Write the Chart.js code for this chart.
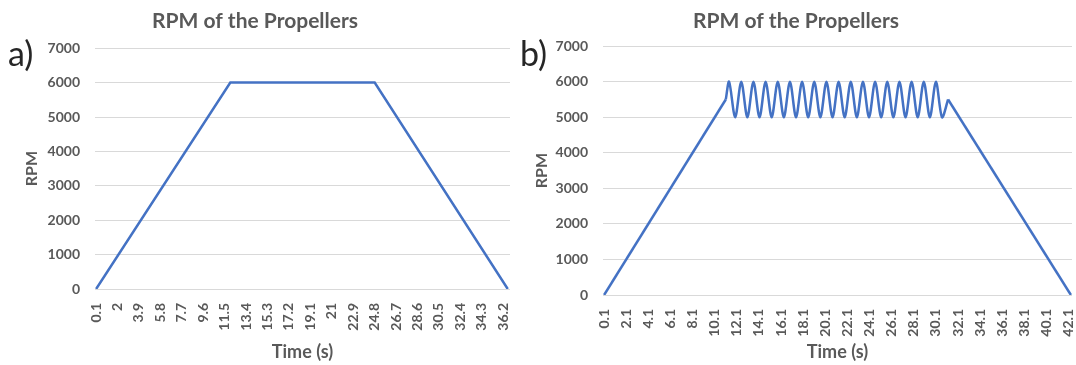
<!DOCTYPE html>
<html>
<head>
<meta charset="utf-8">
<title>RPM of the Propellers</title>
<script src="https://cdn.jsdelivr.net/npm/chart.js@4.4.1/dist/chart.umd.min.js"></script>
<style>
  body { margin: 0; background: #fff; }
  #wrap { position: relative; width: 1076px; height: 365px; overflow: hidden; }
  canvas { position: absolute; top: 0; }
  #chartA { left: 0; }
  #chartB { left: 520px; }
  .tag { position: absolute; font-family: Lato, sans-serif; font-size: 34px; color: #262626; line-height: 1; }
</style>
</head>
<body>
<div id="wrap">
  <canvas id="chartA" width="535" height="365"></canvas>
  <canvas id="chartB" width="556" height="365"></canvas>
  <div class="tag" style="left:8px; top:36px;">a)</div>
  <div class="tag" style="left:520px; top:36px;">b)</div>
</div>
<script>
// a) steady run: ramp up, hold at 6000, ramp down
const timeA = [0.1, 12.0, 24.8, 36.6];
const rpmA = [0, 6000, 6000, 0];
const ticksA = ['0.1', '2', '3.9', '5.8', '7.7', '9.6', '11.5', '13.4', '15.3', '17.2',
  '19.1', '21', '22.9', '24.8', '26.7', '28.6', '30.5', '32.4', '34.3', '36.2'];

// b) oscillating between 5000 and 6000 during the hold
const timeB = [0.1, 11.1,
  11.4, 11.95, 12.5, 13.05, 13.6, 14.15, 14.7, 15.25, 15.8, 16.35,
  16.9, 17.45, 18.0, 18.55, 19.1, 19.65, 20.2, 20.75, 21.3, 21.85,
  22.4, 22.95, 23.5, 24.05, 24.6, 25.15, 25.7, 26.25, 26.8, 27.35,
  27.9, 28.45, 29.0, 29.55, 30.1, 30.65,
  31.2, 42.3];
const rpmB = [0, 5500,
  6000, 5000, 6000, 5000, 6000, 5000, 6000, 5000, 6000, 5000,
  6000, 5000, 6000, 5000, 6000, 5000, 6000, 5000, 6000, 5000,
  6000, 5000, 6000, 5000, 6000, 5000, 6000, 5000, 6000, 5000,
  6000, 5000, 6000, 5000, 6000, 5000,
  5500, 0];
const ticksB = ['0.1', '2.1', '4.1', '6.1', '8.1', '10.1', '12.1', '14.1', '16.1', '18.1',
  '20.1', '22.1', '24.1', '26.1', '28.1', '30.1', '32.1', '34.1', '36.1', '38.1', '40.1', '42.1'];

const GREY = '#595959';
const BLUE = '#4472C4';
const FONT = 'Lato, sans-serif';

function pts(times, rpms, from, to) {
  const out = [];
  for (let i = from; i <= to; i++) out.push({ x: times[i], y: rpms[i] });
  return out;
}

// ramps are drawn straight, the oscillating part slightly rounded
function segments(times, rpms, smoothFrom, smoothTo) {
  const last = times.length - 1;
  const line = (data, tension) => ({ data, borderColor: BLUE, borderWidth: 2.5, pointRadius: 0, tension, fill: false });
  if (smoothFrom == null) return [line(pts(times, rpms, 0, last), 0)];
  return [
    line(pts(times, rpms, 0, smoothFrom), 0),
    line(pts(times, rpms, smoothFrom, smoothTo), 0.3),
    line(pts(times, rpms, smoothTo, last), 0)
  ];
}

function makeChart(id, datasets, tickLabels, cfg) {
  const ctx = document.getElementById(id).getContext('2d');
  return new Chart(ctx, {
    type: 'line',
    data: { datasets },
    options: {
      responsive: false,
      animation: false,
      layout: { padding: { left: 0, right: cfg.padRight, top: 0, bottom: 0 } },
      plugins: {
        legend: { display: false },
        tooltip: { enabled: false },
        title: {
          display: true,
          text: 'RPM of the Propellers',
          color: GREY,
          font: { family: FONT, size: 21, weight: 'bold' },
          padding: { top: 9, bottom: cfg.titleBottom }
        }
      },
      scales: {
        x: {
          type: 'linear',
          min: 0,
          max: cfg.xMax,
          grid: { display: false },
          border: { display: false },
          afterBuildTicks: (scale) => { scale.ticks = tickLabels.map(v => ({ value: Number(v) })); },
          afterFit: (scale) => {
            scale.height = cfg.xHeight;
            scale.paddingLeft = 0;
            scale.paddingRight = 0;
          },
          ticks: {
            autoSkip: false,
            minRotation: 90,
            maxRotation: 90,
            padding: 6,
            color: GREY,
            font: { family: FONT, size: 14, weight: 'bold' },
            callback: (v, i) => tickLabels[i]
          },
          title: {
            display: true,
            text: 'Time (s)',
            color: GREY,
            font: { family: FONT, size: 18, weight: 'bold' },
            padding: { top: 0, bottom: 2 }
          }
        },
        y: {
          min: 0,
          max: 7000,
          afterFit: (scale) => { scale.width = cfg.yWidth; },
          ticks: {
            stepSize: 1000,
            padding: 15,
            color: GREY,
            font: { family: FONT, size: 14, weight: 'bold' },
            callback: (v) => String(v)
          },
          grid: { color: '#d9d9d9', drawTicks: false },
          border: { display: false },
          title: {
            display: true,
            text: 'RPM',
            color: GREY,
            font: { family: FONT, size: 16, weight: 'bold' },
            padding: { top: cfg.rpmPad, bottom: 0 }
          }
        }
      }
    }
  });
}

makeChart('chartA', segments(timeA, rpmA), ticksA,
  { xMax: 36.8, padRight: 25, titleBottom: 14, xHeight: 76, yWidth: 95, rpmPad: 22 });
makeChart('chartB', segments(timeB, rpmB, 1, timeB.length - 2), ticksB,
  { xMax: 42.4, padRight: 4, titleBottom: 12, xHeight: 70, yWidth: 83, rpmPad: 12 });
</script>
</body>
</html>
